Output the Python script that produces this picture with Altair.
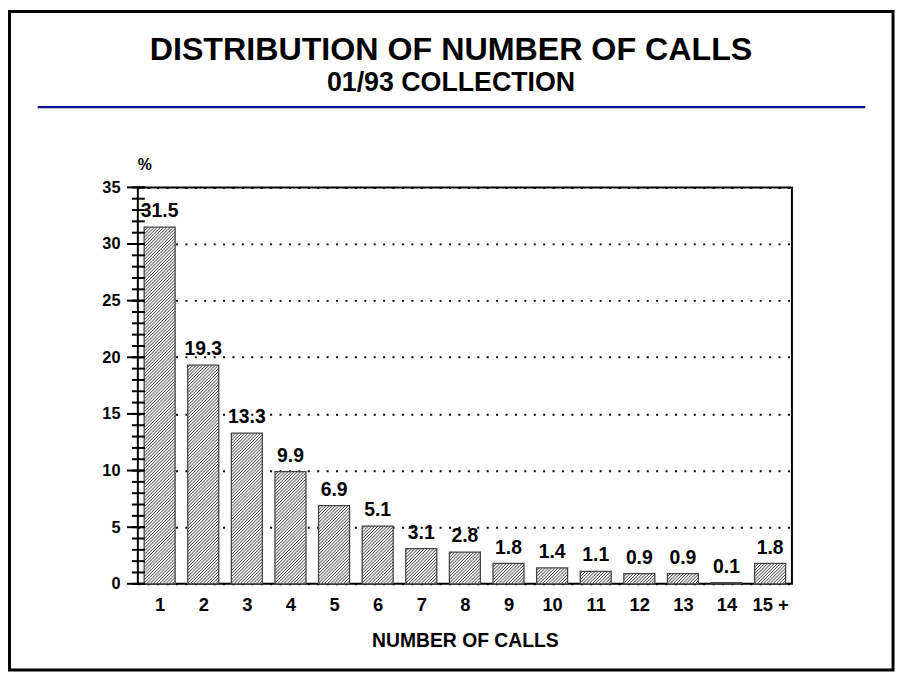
import json
import altair as alt
import pandas as pd

# ---- data ----
categories = ["1", "2", "3", "4", "5", "6", "7", "8", "9", "10", "11", "12", "13", "14", "15 +"]
percent = [31.5, 19.3, 13.3, 9.9, 6.9, 5.1, 3.1, 2.8, 1.8, 1.4, 1.1, 0.9, 0.9, 0.1, 1.8]
major_ticks = [0, 5, 10, 15, 20, 25, 30, 35]
minor_ticks = list(range(0, 36))
title_text = "DISTRIBUTION OF NUMBER OF CALLS"
subtitle_text = "01/93 COLLECTION"
x_title = "NUMBER OF CALLS"
y_unit = "%"

# ---- layout ----
W, H = 660, 400
XDOM = [0.5, len(categories) + 0.5]
YDOM = [0, 35]
PX_X = W / (XDOM[1] - XDOM[0])
PX_Y = H / (YDOM[1] - YDOM[0])
HALF = 0.355
BAR_W = 2 * HALF * PX_X
HATCH = 3.2
FONT = "Liberation Sans, Arial, Helvetica, sans-serif"

df = pd.DataFrame({"cat": categories, "pos": list(range(1, len(categories) + 1)), "pct": percent})

xs = alt.Scale(domain=XDOM, nice=False, zero=False)
ys = alt.Scale(domain=YDOM, nice=False, zero=False)

label_expr = json.dumps(categories) + "[datum.value - 1]"

x_axis = alt.Axis(values=list(range(1, len(categories) + 1)), labelExpr=label_expr,
                  title=x_title, domain=False, ticks=False, tickSize=0, grid=False,
                  labelFont=FONT, labelFontWeight="bold", labelFontSize=18.5,
                  labelColor="black", labelPadding=12, labelFlush=False,
                  titleFont=FONT, titleFontWeight="bold", titleFontSize=19.5,
                  titleColor="black", titlePadding=18)
y_axis = alt.Axis(values=major_ticks, title=None, domain=False, ticks=False, tickSize=0,
                  grid=True, gridColor="black", gridDash=[2, 7.5], gridWidth=2,
                  labelFont=FONT, labelFontWeight="bold", labelFontSize=16.5,
                  labelColor="black", labelPadding=18)

base = alt.Chart(df).transform_calculate(
    xl=f"datum.pos - {HALF}"
).transform_calculate(
    xr=f"datum.pos + {HALF}"
)

bars_fill = base.mark_rect(fill="white", strokeWidth=0).encode(
    x=alt.X("xl:Q", scale=xs, axis=x_axis),
    x2="xr:Q",
    y=alt.Y("pct:Q", scale=ys, axis=y_axis),
    y2=alt.datum(0),
)

hatch = alt.Chart(df).transform_calculate(
    h=f"datum.pct * {PX_Y}"
).transform_calculate(
    ks=f"sequence(1, ceil((datum.h + {BAR_W}) / {HATCH}) + 1)"
).transform_flatten(
    ["ks"]
).transform_calculate(
    c=f"-{BAR_W} + datum.ks * {HATCH}"
).transform_calculate(
    s="max(0, -datum.c)"
).transform_calculate(
    e=f"min({BAR_W}, datum.h - datum.c)"
).transform_filter(
    "datum.s < datum.e"
).transform_calculate(
    hx1=f"datum.pos - {HALF} + datum.s / {PX_X}"
).transform_calculate(
    hx2=f"datum.pos - {HALF} + datum.e / {PX_X}"
).transform_calculate(
    hy1=f"(datum.s + datum.c) / {PX_Y}"
).transform_calculate(
    hy2=f"(datum.e + datum.c) / {PX_Y}"
).mark_rule(color="#333333", strokeWidth=1).encode(
    x=alt.X("hx1:Q", scale=xs, axis=x_axis),
    x2="hx2:Q",
    y=alt.Y("hy1:Q", scale=ys, axis=y_axis),
    y2="hy2:Q",
)

bars_outline = base.mark_rect(filled=False, stroke="#444444", strokeWidth=1.3).encode(
    x=alt.X("xl:Q", scale=xs, axis=x_axis),
    x2="xr:Q",
    y=alt.Y("pct:Q", scale=ys, axis=y_axis),
    y2=alt.datum(0),
)

values = alt.Chart(df).mark_text(
    font=FONT, fontWeight="bold", fontSize=19.5, color="black", baseline="alphabetic", dy=-10
).encode(
    x=alt.X("pos:Q", scale=xs, axis=x_axis),
    y=alt.Y("pct:Q", scale=ys, axis=y_axis),
    text=alt.Text("pct:Q", format=".1f"),
)

minor = alt.Chart(pd.DataFrame({"v": minor_ticks})).mark_rule(color="black", strokeWidth=2).encode(
    x=alt.value(-6), x2=alt.value(7),
    y=alt.Y("v:Q", scale=ys, axis=y_axis),
)
major = alt.Chart(pd.DataFrame({"v": major_ticks})).mark_rule(color="black", strokeWidth=2).encode(
    x=alt.value(-11), x2=alt.value(7),
    y=alt.Y("v:Q", scale=ys, axis=y_axis),
)

one = alt.Data(values=[{"t": title_text, "s": subtitle_text, "u": y_unit}])

title = alt.Chart(one).mark_text(
    font=FONT, fontWeight="bold", fontSize=32.5, color="black", align="center", baseline="alphabetic"
).encode(x=alt.value(316), y=alt.value(-129), text="t:N")
subtitle = alt.Chart(one).mark_text(
    font=FONT, fontWeight="bold", fontSize=27, color="black", align="center", baseline="alphabetic"
).encode(x=alt.value(316), y=alt.value(-97), text="s:N")
unit = alt.Chart(one).mark_text(
    font=FONT, fontWeight="bold", fontSize=16, color="black", align="center", baseline="middle"
).encode(x=alt.value(7), y=alt.value(-23), text="u:N")

blue_line = alt.Chart(one).mark_rule(color="#0c0c9a", strokeWidth=2.5).encode(
    x=alt.value(-101), x2=alt.value(734), y=alt.value(-81)
)
frame = alt.Chart(one).mark_rect(filled=False, stroke="black", strokeWidth=3).encode(
    x=alt.value(-129.5), x2=alt.value(762), y=alt.value(-177.5), y2=alt.value(487)
)

chart = alt.layer(
    bars_fill, hatch, bars_outline, values, minor, major, title, subtitle, unit, blue_line, frame
).properties(
    width=W, height=H,
    padding={"left": 131, "top": 178, "right": 104, "bottom": 89},
    autosize=alt.AutoSizeParams(type="none"),
    background="white",
).configure_view(
    stroke="black", strokeWidth=2
)

chart.save("out.html", embed_options={"renderer": "svg", "actions": False})
